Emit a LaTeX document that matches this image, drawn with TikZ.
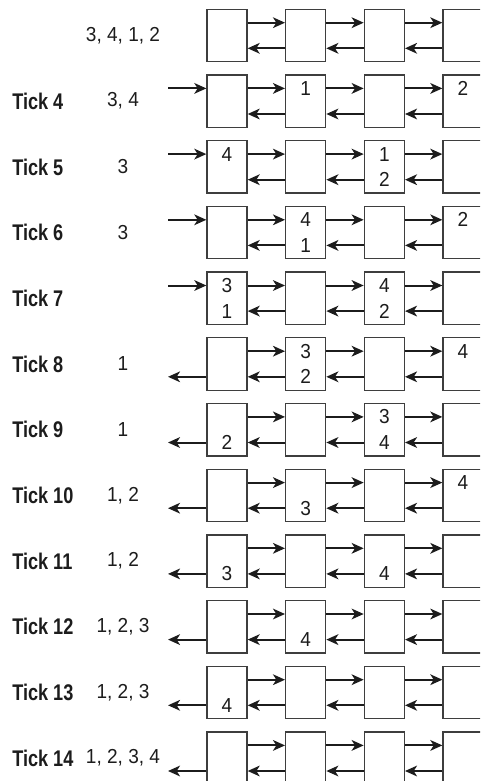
\documentclass[tikz,border=0pt]{standalone}
\usepackage{fontspec}
\setmainfont{Liberation Sans}[FakeStretch=0.94]
\newfontfamily\tickfont{Liberation Sans}[FakeStretch=0.8]
\usetikzlibrary{arrows.meta}
\definecolor{cellC}{RGB}{62,62,62}
\definecolor{linkC}{RGB}{28,28,28}

\begin{document}
\begin{tikzpicture}[
  cell/.style={draw=cellC, line width=1pt, minimum width=30pt, minimum height=39.3pt, inner sep=0pt},
  link/.style={draw=linkC, line width=1.5pt, -{Stealth[length=9pt, width=8pt, inset=2.5pt]}},
  slot/.style={font=\fontsize{15.2}{18}\selectfont, text=linkC, inner sep=0pt},
  ticklabel/.style={font=\tickfont\bfseries\fontsize{17}{20}\selectfont, text=linkC, anchor=west, inner sep=0pt},
  qlabel/.style={font=\fontsize{15.2}{18}\selectfont, text=linkC, inner sep=0pt},
  x=0.75pt, y=-0.75pt  % reference pixel scale, y runs downwards
]
\useasboundingbox (0,0) rectangle (480,781);
\clip (0,0) rectangle (480,781);

% ---------- twelve rows: labels, four cells, links between cells ----------
\foreach \r/\tk/\qs in {1//{3, 4, 1, 2}, 2/Tick 4/{3, 4}, 3/Tick 5/3, 4/Tick 6/3,
    5/Tick 7/, 6/Tick 8/1, 7/Tick 9/1, 8/Tick 10/{1, 2}, 9/Tick 11/{1, 2},
    10/Tick 12/{1, 2, 3}, 11/Tick 13/{1, 2, 3}, 12/Tick 14/{1, 2, 3, 4}} {
  \pgfmathsetmacro\ry{35.5+(\r-1)*65.7}
  \node[ticklabel] (tick\r) at (12,\ry) {\tk};
  \node[qlabel] (queue\r) at (123,\ry) {\qs};
  \foreach \c in {1,...,4} {
    \node[cell] (b\r-\c) at ({227+(\c-1)*78.67},\ry) {};
    \coordinate (t\r-\c) at ({227+(\c-1)*78.67},{\ry-12.8});
    \coordinate (u\r-\c) at ({227+(\c-1)*78.67},{\ry+12.8});
  }
  \foreach \c [count=\n from 2] in {1,2,3} {
    \draw[link] (b\r-\c.east |- t\r-\c) -- (b\r-\n.west |- t\r-\n);
    \draw[link] (b\r-\n.west |- u\r-\n) -- (b\r-\c.east |- u\r-\c);
  }
}

% ---------- items entering (ticks 4-7) and leaving (ticks 8-14) ----------
\foreach \r in {2,...,5} {
  \path (t\r-1) ++(-59,0) coordinate (in\r);
  \draw[link] (in\r) -- (b\r-1.west |- t\r-1);
}
\foreach \r in {6,...,12} {
  \path (u\r-1) ++(-59,0) coordinate (out\r);
  \draw[link] (b\r-1.west |- u\r-1) -- (out\r);
}

% ---------- numbers held in the cells ----------
\node[slot] (s2-2) at (t2-2) {1};  \node[slot] (s2-4) at (t2-4) {2};
\node[slot] (s3-1) at (t3-1) {4};  \node[slot] (s3-3) at (t3-3) {1};
\node[slot] (s3-3u) at (u3-3) {2};
\node[slot] (s4-2) at (t4-2) {4};  \node[slot] (s4-2u) at (u4-2) {1};
\node[slot] (s4-4) at (t4-4) {2};
\node[slot] (s5-1) at (t5-1) {3};  \node[slot] (s5-1u) at (u5-1) {1};
\node[slot] (s5-3) at (t5-3) {4};  \node[slot] (s5-3u) at (u5-3) {2};
\node[slot] (s6-2) at (t6-2) {3};  \node[slot] (s6-2u) at (u6-2) {2};
\node[slot] (s6-4) at (t6-4) {4};
\node[slot] (s7-1u) at (u7-1) {2};
\node[slot] (s7-3) at (t7-3) {3};  \node[slot] (s7-3u) at (u7-3) {4};
\node[slot] (s8-2u) at (u8-2) {3}; \node[slot] (s8-4) at (t8-4) {4};
\node[slot] (s9-1u) at (u9-1) {3}; \node[slot] (s9-3u) at (u9-3) {4};
\node[slot] (s10-2u) at (u10-2) {4};
\node[slot] (s11-1u) at (u11-1) {4};

\end{tikzpicture}
\end{document}
